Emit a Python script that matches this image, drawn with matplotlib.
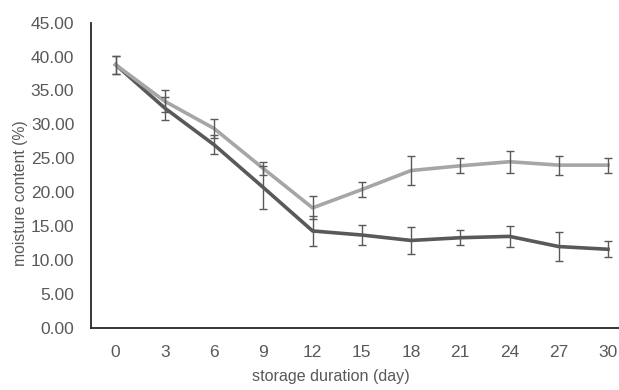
import matplotlib.pyplot as plt
import numpy as np

plt.rcParams['font.family'] = ['Liberation Sans', 'DejaVu Sans']

# storage days and measured moisture content (%)
days = ["0", "3", "6", "9", "12", "15", "18", "21", "24", "27", "30"]
moist_light = [38.8, 33.4, 29.4, 23.5, 17.7, 20.4, 23.2, 23.9, 24.5, 24.0, 24.0]
err_light   = [1.3, 1.6, 1.4, 1.0, 1.7, 1.1, 2.1, 1.1, 1.6, 1.4, 1.1]
moist_dark  = [38.8, 32.4, 27.0, 20.7, 14.3, 13.7, 12.9, 13.3, 13.5, 12.0, 11.6]
err_dark    = [1.3, 1.7, 1.4, 3.2, 2.2, 1.5, 2.0, 1.1, 1.6, 2.1, 1.2]
yticks = np.arange(0, 45.1, 5)

txt_col = "#595959"
err_col = "#595959"

fig = plt.figure(figsize=(6.19, 3.90), dpi=100)
ax = fig.add_axes([0.147, 0.159, 0.875, 0.783])

x = np.arange(len(days))

ax.plot(x, moist_dark, "-", color="#595959", lw=2.6, solid_joinstyle="round", zorder=2)
ax.plot(x, moist_light, "-", color="#A6A6A6", lw=2.6, solid_joinstyle="round", zorder=3)
ax.errorbar(x, moist_dark, yerr=err_dark, fmt="none", ecolor=err_col,
            elinewidth=1.0, capsize=3.2, capthick=1.0, zorder=4)
ax.errorbar(x, moist_light, yerr=err_light, fmt="none", ecolor=err_col,
            elinewidth=1.0, capsize=3.2, capthick=1.0, zorder=4)

ax.set_xlim(-0.5, len(days) - 0.5)
ax.set_ylim(0, 45)
ax.set_xticks(x)
ax.set_xticklabels(days)
ax.set_yticks(yticks)
ax.set_yticklabels(["%.2f" % v for v in yticks])

ax.tick_params(axis="both", length=0, labelsize=12.5, labelcolor=txt_col)
ax.tick_params(axis="y", pad=12)
ax.tick_params(axis="x", pad=12)

for s in ["top", "right"]:
    ax.spines[s].set_visible(False)
for s in ["left", "bottom"]:
    ax.spines[s].set_color("#262626")
    ax.spines[s].set_linewidth(1.3)

ax.set_xlabel("storage duration (day)", fontsize=11.6, color=txt_col)
ax.set_ylabel("moisture content (%)", fontsize=11.3, color=txt_col)
ax.xaxis.set_label_coords(0.443, -0.135)
ax.yaxis.set_label_coords(-0.131, 0.442)
ax.yaxis.label.set_va("center")

fig.savefig("out.png", dpi=100)
